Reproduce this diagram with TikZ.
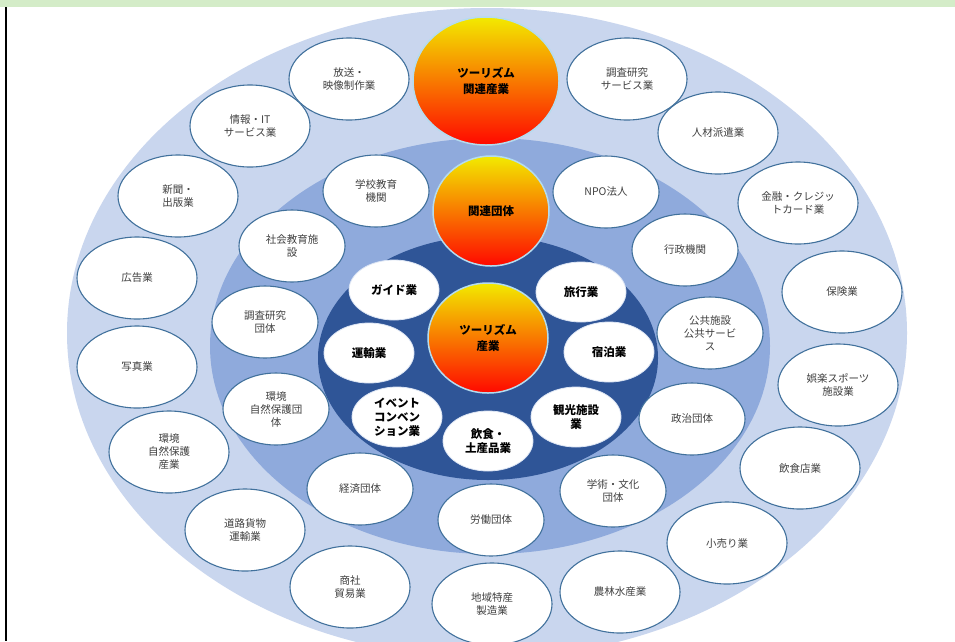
\documentclass[tikz,border=0pt]{standalone}
\usepackage{fontspec}
\setmainfont{Noto Sans CJK JP}
\usetikzlibrary{shapes.geometric}
\definecolor{bandgreen}{HTML}{D4ECC8}
\definecolor{ringA}{HTML}{C9D6EE}
\definecolor{ringB}{HTML}{8FAADC}
\definecolor{ringC}{HTML}{2F5597}
\definecolor{edgeblue}{HTML}{41719C}
\definecolor{txtgray}{HTML}{404040}
\definecolor{ballrim}{HTML}{B4DCEF}
\definecolor{ballyellow}{HTML}{F2EA00}
\definecolor{ballorange}{HTML}{FAB400}
\definecolor{ballred}{HTML}{FF0800}
\definecolor{innrim}{HTML}{DCE5F4}
\begin{document}
\begin{tikzpicture}[x=1pt,y=-1pt,
  oval/.style={ellipse,draw=edgeblue,fill=white,line width=1.1pt,inner sep=0pt,align=center,
    text=txtgray,font=\fontsize{10.5}{13}\selectfont},
  outerE/.style={oval,minimum width=120pt,minimum height=82pt},
  midE/.style={oval,minimum width=106pt,minimum height=72pt},
  innE/.style={ellipse,draw=innrim,fill=white,line width=0.8pt,inner sep=0pt,align=center,
    text=black,font=\bfseries\fontsize{11.5}{14}\selectfont,minimum width=90pt,minimum height=60pt},
  ball/.style={ellipse,draw=ballrim,line width=1.5pt,inner sep=0pt,align=center,
    top color=ballyellow,middle color=ballorange,bottom color=ballred,
    text=black,font=\bfseries\fontsize{11.5}{16}\selectfont}]
\useasboundingbox (0,0) rectangle (955,641);
\clip (0,0) rectangle (955,641);
\fill[white] (0,0) rectangle (955,641);
% rings
\fill[ringA] (487,333) ellipse [x radius=420pt, y radius=325pt];
\fill[ringB] (490,346) ellipse [x radius=280pt, y radius=208pt];
\fill[ringC] (488,358) ellipse [x radius=170pt, y radius=122pt];
% frame
\fill[bandgreen] (0,0) rectangle (955,7);
\fill[black] (4.8,7) rectangle (7.3,641);
% outer ring
\node[outerE] (o1) at (349,79) {放送・\\映像制作業};
\node[outerE] (o2) at (627,79) {調査研究\\サービス業};
\node[outerE] (o3) at (250,126) {情報・IT\\サービス業};
\node[outerE] (o4) at (718,133) {人材派遣業};
\node[outerE] (o5) at (178,196) {新聞・\\出版業};
\node[outerE] (o6) at (798,203) {金融・クレジッ\\トカード業};
\node[outerE] (o7) at (137,278) {広告業};
\node[outerE] (o8) at (842,292) {保険業};
\node[outerE] (o9) at (137,367) {写真業};
\node[outerE] (o10) at (838,385) {娯楽スポーツ\\施設業};
\node[outerE] (o11) at (169,452) {環境\\自然保護\\産業};
\node[outerE] (o12) at (800,468) {飲食店業};
\node[outerE] (o13) at (245,530) {道路貨物\\運輸業};
\node[outerE] (o14) at (727,543) {小売り業};
\node[outerE] (o15) at (350,587) {商社\\貿易業};
\node[outerE] (o16) at (492,604) {地域特産\\製造業};
\node[outerE] (o17) at (620,592) {農林水産業};
% middle ring
\node[midE] (m1) at (376,191) {学校教育\\機関};
\node[midE] (m2) at (606,192) {NPO法人};
\node[midE] (m3) at (292,246) {社会教育施\\設};
\node[midE] (m4) at (685,250) {行政機関};
\node[midE] (m5) at (265,322) {調査研究\\団体};
\node[midE] (m6) at (710,333) {公共施設\\公共サービ\\ス};
\node[midE] (m7) at (276,409) {環境\\自然保護団\\体};
\node[midE] (m8) at (692,419) {政治団体};
\node[midE] (m9) at (360,489) {経済団体};
\node[midE] (m10) at (613,491) {学術・文化\\団体};
\node[midE] (m11) at (491,520) {労働団体};
% inner ring
\node[innE] (i1) at (394,290) {ガイド業};
\node[innE] (i2) at (581,292) {旅行業};
\node[innE] (i3) at (369,353) {運輸業};
\node[innE] (i4) at (609,352) {宿泊業};
\node[innE] (i5) at (397,417) {イベント\\コンベン\\ション業};
\node[innE] (i6) at (576,417) {観光施設\\業};
\node[innE] (i7) at (488,441) {飲食・\\土産品業};
% centre balls
\node[ball,minimum width=146pt,minimum height=128pt] (b1) at (486,81) {ツーリズム\\関連産業};
\node[ball,minimum width=116pt,minimum height=110pt] (b2) at (491,211) {関連団体};
\node[ball,minimum width=120pt,minimum height=110pt] (b3) at (488,338) {ツーリズム\\産業};
\end{tikzpicture}
\end{document}
